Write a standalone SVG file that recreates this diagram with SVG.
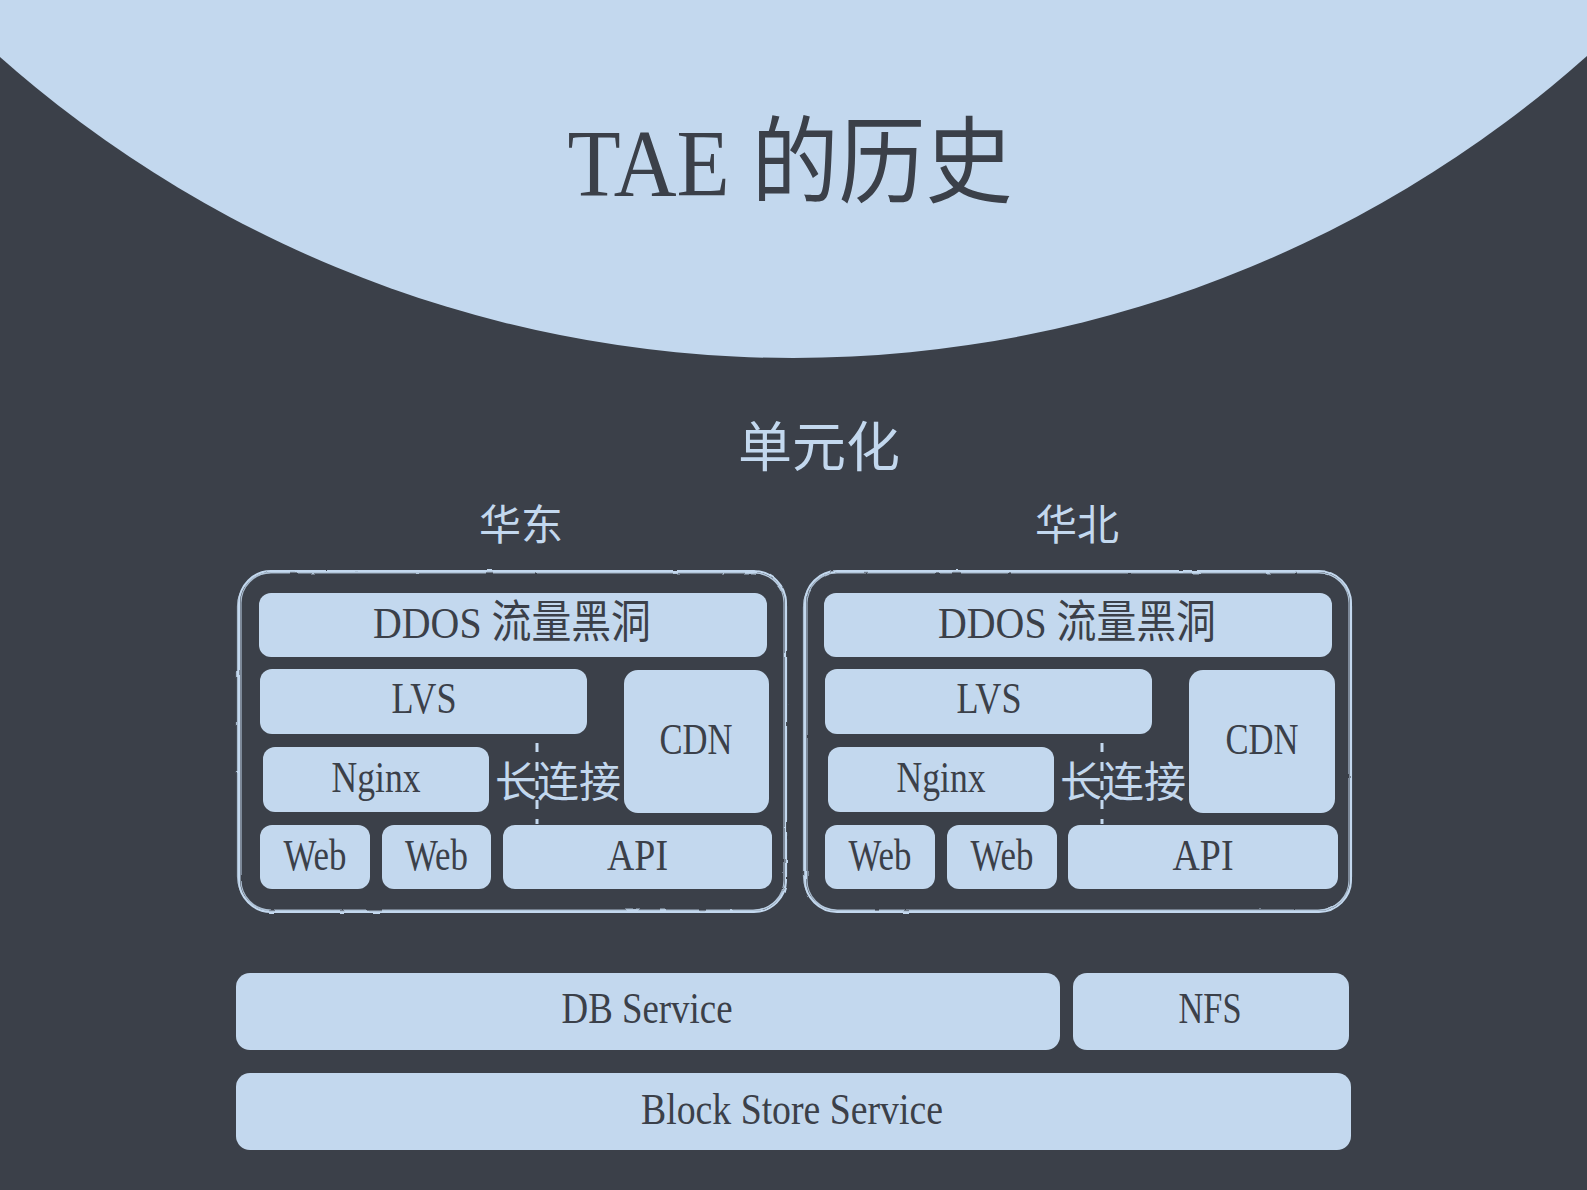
<svg xmlns="http://www.w3.org/2000/svg" width="1587" height="1190" viewBox="0 0 1587 1190">
  <defs>
    <filter id="rough" x="-5%" y="-5%" width="110%" height="110%">
      <feTurbulence type="fractalNoise" baseFrequency="0.06" numOctaves="2" seed="3" result="n"/>
      <feDisplacementMap in="SourceGraphic" in2="n" scale="2" xChannelSelector="R" yChannelSelector="G"/>
    </filter>
  </defs>
  <style>
    .bg { fill: #3b4049; }
    .cap { fill: #c3d8ee; }
    .box { fill: #c3d8ee; }
    .sk { fill: none; stroke: #c3d8ee; stroke-linecap: round; }
    .t { font-family: "Liberation Serif", "Noto Sans CJK SC", serif; fill: #3b4049; text-anchor: middle; }
    .lt { font-family: "Liberation Serif", "Noto Sans CJK SC", serif; fill: #c3d8ee; text-anchor: middle; }
    .dash { stroke: #c3d8ee; stroke-width: 3; stroke-dasharray: 9 10; fill: none; }
  </style>

  <rect class="bg" x="0" y="0" width="1587" height="1190"/>
  <g id="header">
    <circle class="cap" cx="793" cy="-837" r="1195"/>
    <text class="t" x="790" y="196" font-size="95" textLength="445" lengthAdjust="spacingAndGlyphs">TAE 的历史</text>
  </g>

  <g id="title">
    <text class="lt" x="819" y="467" font-size="54">单元化</text>
  </g>

  <g id="east">
    <text class="lt" x="521" y="540" font-size="42">华东</text>
    <g filter="url(#rough)">
      <rect class="sk" x="239" y="571" width="547" height="341" rx="32" stroke-width="2"/>
      <rect class="sk" x="241" y="573" width="543" height="337" rx="30" stroke-width="1.2" opacity="0.8"/>
      <rect class="sk" x="237.5" y="572.5" width="549" height="338" rx="34" stroke-width="1.2" opacity="0.8"/>
    </g>
    <g id="east-ddos"><rect class="box" x="259" y="593" width="508" height="64" rx="12"/>
      <text class="t" x="512" y="638" font-size="45" textLength="278" lengthAdjust="spacingAndGlyphs">DDOS 流量黑洞</text></g>
    <g id="east-lvs"><rect class="box" x="260" y="669" width="327" height="65" rx="12"/>
      <text class="t" x="424" y="713" font-size="45" textLength="65" lengthAdjust="spacingAndGlyphs">LVS</text></g>
    <g id="east-cdn"><rect class="box" x="624" y="670" width="145" height="143" rx="14"/>
      <text class="t" x="696" y="754" font-size="45" textLength="73" lengthAdjust="spacingAndGlyphs">CDN</text></g>
    <g id="east-nginx"><rect class="box" x="263" y="747" width="226" height="65" rx="12"/>
      <text class="t" x="376" y="792" font-size="45" textLength="89" lengthAdjust="spacingAndGlyphs">Nginx</text></g>
    <g id="east-web1"><rect class="box" x="260" y="825" width="110" height="64" rx="12"/>
      <text class="t" x="315" y="870" font-size="45" textLength="63" lengthAdjust="spacingAndGlyphs">Web</text></g>
    <g id="east-web2"><rect class="box" x="382" y="825" width="109" height="64" rx="12"/>
      <text class="t" x="436.5" y="870" font-size="45" textLength="63" lengthAdjust="spacingAndGlyphs">Web</text></g>
    <g id="east-api"><rect class="box" x="503" y="825" width="269" height="64" rx="12"/>
      <text class="t" x="637.5" y="870" font-size="45" textLength="61" lengthAdjust="spacingAndGlyphs">API</text></g>
  </g>

  <g id="north">
    <text class="lt" x="1077" y="540" font-size="42">华北</text>
    <g filter="url(#rough)">
      <rect class="sk" x="805" y="571" width="546" height="341" rx="32" stroke-width="2"/>
      <rect class="sk" x="807" y="573" width="542" height="337" rx="30" stroke-width="1.2" opacity="0.8"/>
      <rect class="sk" x="803.5" y="572.5" width="548" height="338" rx="34" stroke-width="1.2" opacity="0.8"/>
    </g>
    <g id="north-ddos"><rect class="box" x="824" y="593" width="508" height="64" rx="12"/>
      <text class="t" x="1077" y="638" font-size="45" textLength="278" lengthAdjust="spacingAndGlyphs">DDOS 流量黑洞</text></g>
    <g id="north-lvs"><rect class="box" x="825" y="669" width="327" height="65" rx="12"/>
      <text class="t" x="989" y="713" font-size="45" textLength="65" lengthAdjust="spacingAndGlyphs">LVS</text></g>
    <g id="north-cdn"><rect class="box" x="1189" y="670" width="146" height="143" rx="14"/>
      <text class="t" x="1262" y="754" font-size="45" textLength="73" lengthAdjust="spacingAndGlyphs">CDN</text></g>
    <g id="north-nginx"><rect class="box" x="828" y="747" width="226" height="65" rx="12"/>
      <text class="t" x="941" y="792" font-size="45" textLength="89" lengthAdjust="spacingAndGlyphs">Nginx</text></g>
    <g id="north-web1"><rect class="box" x="825" y="825" width="110" height="64" rx="12"/>
      <text class="t" x="880" y="870" font-size="45" textLength="63" lengthAdjust="spacingAndGlyphs">Web</text></g>
    <g id="north-web2"><rect class="box" x="947" y="825" width="110" height="64" rx="12"/>
      <text class="t" x="1002" y="870" font-size="45" textLength="63" lengthAdjust="spacingAndGlyphs">Web</text></g>
    <g id="north-api"><rect class="box" x="1068" y="825" width="270" height="64" rx="12"/>
      <text class="t" x="1203" y="870" font-size="45" textLength="61" lengthAdjust="spacingAndGlyphs">API</text></g>
  </g>

  <g id="connectors">
    <line class="dash" x1="537" y1="743" x2="537" y2="824"/>
    <line class="dash" x1="1102" y1="743" x2="1102" y2="824"/>
  </g>
  <g id="labels">
    <text class="lt" x="558" y="797" font-size="42" textLength="126" lengthAdjust="spacingAndGlyphs">长连接</text>
    <text class="lt" x="1123" y="797" font-size="42" textLength="126" lengthAdjust="spacingAndGlyphs">长连接</text>
  </g>

  <g id="db">
    <rect class="box" x="236" y="973" width="824" height="77" rx="14"/>
    <text class="t" x="647" y="1023" font-size="44" textLength="171" lengthAdjust="spacingAndGlyphs">DB Service</text>
  </g>
  <g id="nfs">
    <rect class="box" x="1073" y="973" width="276" height="77" rx="14"/>
    <text class="t" x="1210" y="1023" font-size="44" textLength="63" lengthAdjust="spacingAndGlyphs">NFS</text>
  </g>
  <g id="block">
    <rect class="box" x="236" y="1073" width="1115" height="77" rx="14"/>
    <text class="t" x="792" y="1124" font-size="44" textLength="302" lengthAdjust="spacingAndGlyphs">Block Store Service</text>
  </g>
</svg>
